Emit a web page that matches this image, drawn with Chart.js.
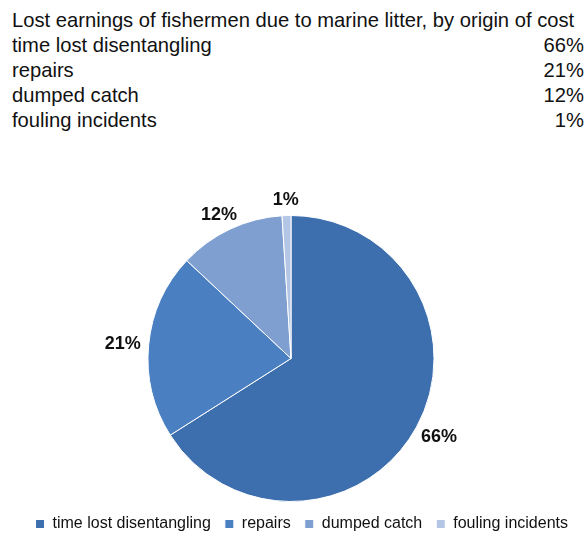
<!DOCTYPE html>
<html lang="en">
<head>
    <meta charset="UTF-8">
    <title>Lost earnings of fishermen</title>
    <style>
        * {
    box-sizing: border-box;
    margin: 0;
    padding: 0;
}

body {
    width: 586px;
    height: 534px;
    background-color: #ffffff;
    font-family: "Liberation Sans", Arial, sans-serif;
    color: #111;
    position: relative;
    overflow: hidden;
}

.table {
    position: absolute;
    left: 12px;
    top: 8px;
    width: 572px;
    font-size: 20.2px;
}

.table .row {
    display: flex;
    justify-content: space-between;
    height: 25px;
    line-height: 25px;
    white-space: nowrap;
}

#chartWrap {
    position: absolute;
    left: 0;
    top: 140px;
    width: 586px;
    height: 402px;
}
    </style>
</head>
<body>
    <div class="table" id="table">
        <div class="row"><span id="title">Lost earnings of fishermen due to marine litter, by origin of cost</span></div>
    </div>
    <div id="chartWrap">
        <canvas id="pieChart"></canvas>
    </div>

    <script src="https://cdn.jsdelivr.net/npm/chart.js"></script>
    <script>
        const categories = ['time lost disentangling', 'repairs', 'dumped catch', 'fouling incidents'];
        const shares = [66, 21, 12, 1];
        const shareLabels = ['66%', '21%', '12%', '1%'];
        const sliceColors = ['#3D6FAE', '#4A80C1', '#7E9FD0', '#B3C6E5'];

        // text table above the chart
        const table = document.getElementById('table');
        categories.forEach((c, i) => {
            const row = document.createElement('div');
            row.className = 'row';
            row.innerHTML = '<span>' + c + '</span><span>' + shareLabels[i] + '</span>';
            table.appendChild(row);
        });

        // labels outside each slice
        const outsideLabels = {
            id: 'outsideLabels',
            afterDatasetsDraw(chart) {
                const ctx = chart.ctx;
                const meta = chart.getDatasetMeta(0);
                ctx.save();
                ctx.font = 'bold 18px "Liberation Sans", Arial, sans-serif';
                ctx.fillStyle = '#111';
                ctx.textAlign = 'center';
                ctx.textBaseline = 'middle';
                meta.data.forEach((arc, i) => {
                    const mid = (arc.startAngle + arc.endAngle) / 2;
                    const c = Math.cos(mid), s = Math.sin(mid);
                    const hw = ctx.measureText(shareLabels[i]).width / 2;
                    const hh = 9;
                    const gap = 8;
                    const x = arc.x + c * (arc.outerRadius + gap) + c * hw;
                    const y = arc.y + s * (arc.outerRadius + gap) + s * hh;
                    ctx.fillText(shareLabels[i], x, y + 1);
                });
                ctx.restore();
            }
        };

        const ctxPie = document.getElementById('pieChart').getContext('2d');
        const pieChart = new Chart(ctxPie, {
            type: 'pie',
            data: {
                labels: categories,
                datasets: [{
                    data: shares,
                    backgroundColor: sliceColors,
                    borderColor: '#ffffff',
                    borderWidth: 1,
                }],
            },
            options: {
                responsive: true,
                maintainAspectRatio: false,
                animation: false,
                layout: {
                    padding: { top: 75, bottom: 0, left: 0, right: 4 }
                },
                plugins: {
                    legend: {
                        position: 'bottom',
                        align: 'end',
                        labels: {
                            boxWidth: 9,
                            boxHeight: 9,
                            padding: 14,
                            color: '#111',
                            font: { size: 16, family: '"Liberation Sans", Arial, sans-serif' },
                        },
                    },
                    tooltip: { enabled: false },
                },
            },
            plugins: [outsideLabels],
        });
    </script>
</body>
</html>
